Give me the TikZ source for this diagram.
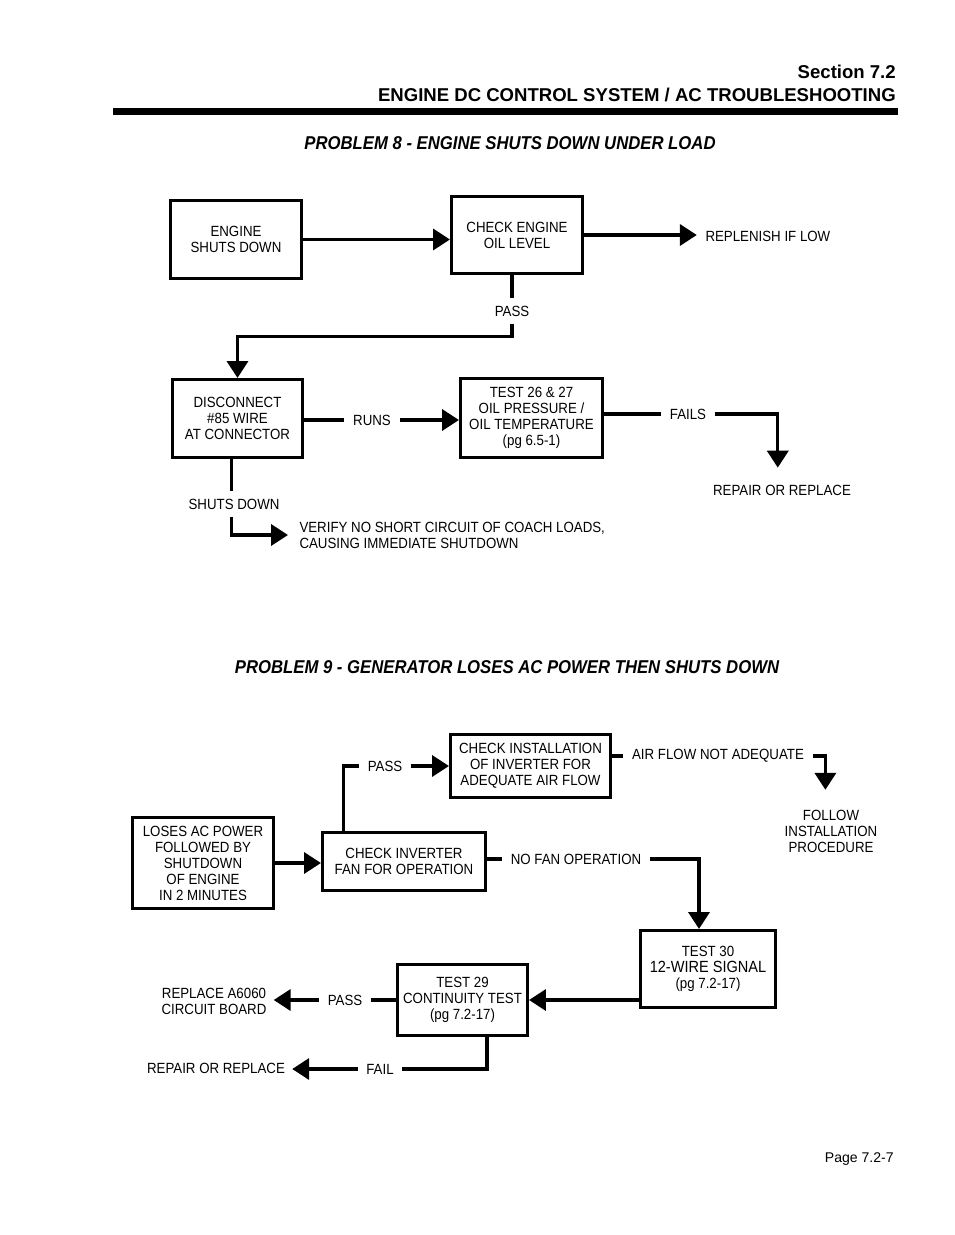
\documentclass[tikz,border=0pt]{standalone}
\usepackage{fontspec}
\setmainfont[FakeStretch=0.9]{Liberation Sans}
\newfontfamily\headfont{Liberation Sans}
\newfontfamily\titlefont[FakeStretch=0.9]{Liberation Sans}
\usetikzlibrary{arrows.meta,positioning,calc}

\begin{document}
\begin{tikzpicture}[x=0.025cm,y=-0.025cm]
  % Define styles
  \tikzstyle{box} = [rectangle, draw, line width=2.2pt, align=center, inner sep=0pt, font=\fontsize{10.5}{11.4}\selectfont]
  \tikzstyle{flow} = [line width=2.2pt]
  \tikzstyle{arrow} = [line width=2.2pt, -{Triangle[length=12pt,width=15pt]}]
  \tikzstyle{note} = [align=center, inner sep=3pt, font=\fontsize{10.5}{11.4}\selectfont]
  \tikzstyle{tag} = [note, inner xsep=6pt, inner ysep=5pt]
  \tikzstyle{heading} = [font=\headfont\bfseries\fontsize{13.2}{15}\selectfont, inner sep=0pt]
  \tikzstyle{problem} = [font=\titlefont\bfseries\itshape\fontsize{13.2}{15}\selectfont, inner sep=0pt]

  \useasboundingbox (0,0) rectangle (954,1235);

  % Page heading
  \node [heading, anchor=base east] (sect) at (896,79) {Section 7.2};
  \node [heading, anchor=base east] (chapter) at (896,102) {ENGINE DC CONTROL SYSTEM / AC TROUBLESHOOTING};
  \draw [line width=4.4pt] (113,111.5) -- (898,111.5);

  % Problem 8
  \node [problem] (prob8) at (510,143) {PROBLEM 8 - ENGINE SHUTS DOWN UNDER LOAD};

  \node [box, minimum width=3.275cm, minimum height=1.95cm] (engine) at (236,239.5) {ENGINE\\SHUTS DOWN};
  \node [box, minimum width=3.275cm, minimum height=1.925cm] (oil) at (517,235) {CHECK ENGINE\\OIL LEVEL};
  \node [box, minimum width=3.25cm, minimum height=1.95cm] (disc) at (237.5,418.5) {DISCONNECT\\\#85 WIRE\\AT CONNECTOR};
  \node [box, minimum width=3.55cm, minimum height=1.975cm] (test26) at (531.5,418) {TEST 26 \& 27\\OIL PRESSURE /\\OIL TEMPERATURE\\(pg 6.5-1)};

  \node [note, anchor=west] (replenish) at (701,236) {REPLENISH IF LOW};
  \node [tag] (pass8) at (512,311) {PASS};
  \node [tag] (runs) at (372,420) {RUNS};
  \node [tag] (fails) at (688,414) {FAILS};
  \node [note] (repair8) at (782,490) {REPAIR OR REPLACE};
  \node [tag] (shutsdn) at (234,504) {SHUTS DOWN};
  \node [note, anchor=west, align=left] (verify) at (295,535) {VERIFY NO SHORT CIRCUIT OF COACH LOADS,\\CAUSING IMMEDIATE SHUTDOWN};

  \draw [arrow] (engine.east) -- (engine.east -| oil.west);
  \draw [arrow, shorten >=3pt] (oil.east) -- (oil.east -| replenish.west);
  \draw [flow] (pass8.north |- oil.south) -- (pass8.north);
  \draw [arrow] (pass8.south) -- ++(0,13) -| (disc.north);
  \draw [flow] (disc.east |- runs) -- (runs.west);
  \draw [arrow] (runs.east) -- (runs -| test26.west);
  \draw [flow] (test26.east |- fails) -- (fails.west);
  \draw [arrow] (fails.east) -| ([xshift=-3pt,yshift=9pt]repair8.north);
  \draw [flow] ([xshift=-4.5pt]disc.south) -- ([xshift=-4.5pt]disc.south |- shutsdn.north);
  \draw [arrow, shorten >=5pt] ([xshift=-2pt]shutsdn.south) |- (verify.west);

  % Problem 9
  \node [problem] (prob9) at (507,667) {PROBLEM 9 - GENERATOR LOSES AC POWER THEN SHUTS DOWN};

  \node [box, minimum width=3.525cm, minimum height=2.275cm] (loses) at (203,863) {LOSES AC POWER\\FOLLOWED BY\\SHUTDOWN\\OF ENGINE\\IN 2 MINUTES};
  \node [box, minimum width=4.075cm, minimum height=1.45cm] (fan) at (404,861.5) {CHECK INVERTER\\FAN FOR OPERATION};
  \node [box, minimum width=4cm, minimum height=1.575cm] (install) at (530.5,766) {CHECK INSTALLATION\\OF INVERTER FOR\\ADEQUATE AIR FLOW};
  \node [box, minimum width=3.375cm, minimum height=1.925cm] (test30) at (708,969) {TEST 30\\{\fontsize{11.5}{11.4}\selectfont 12-WIRE SIGNAL}\\(pg 7.2-17)};
  \node [box, minimum width=3.25cm, minimum height=1.775cm] (test29) at (462.5,1000) {TEST 29\\CONTINUITY TEST\\(pg 7.2-17)};

  \node [tag] (pass9) at (385,766) {PASS};
  \node [tag] (airflow) at (718,756) {AIR FLOW NOT ADEQUATE};
  \node [note] (follow) at (831,831) {FOLLOW\\INSTALLATION\\PROCEDURE};
  \node [tag] (nofan) at (576,859) {NO FAN OPERATION};
  \node [tag] (passb) at (345,1000) {PASS};
  \node [note] (replace) at (214,1001) {REPLACE A6060\\CIRCUIT BOARD};
  \node [tag] (fail) at (380,1069) {FAIL};
  \node [note] (repair9) at (216,1068) {REPAIR OR REPLACE};

  \draw [arrow] (loses.east) -- (loses.east -| fan.west);
  \draw [flow] ([xshift=16pt]fan.north west) |- (pass9.west);
  \draw [arrow] (pass9.east) -- (pass9 -| install.west);
  \draw [flow] (install.east |- airflow) -- (airflow.west);
  \draw [arrow] (airflow.east) -| ([xshift=-4pt,yshift=11pt]follow.north);
  \draw [flow] (fan.east |- nofan) -- (nofan.west);
  \draw [arrow] (nofan.east) -| ([xshift=-6.4pt]test30.north);
  \draw [arrow] (test29.east -| test30.west) -- (test29.east);
  \draw [flow] (test29.west) -- (passb.east);
  \draw [arrow, shorten >=2pt] (passb.west) -- (passb -| replace.east);
  \draw [flow] ([xshift=17.4pt]test29.south) |- (fail.east);
  \draw [arrow, shorten >=2pt] (fail.west) -- (fail -| repair9.east);

  % Page number
  \node [anchor=base east, font=\headfont\fontsize{10}{12}\selectfont, inner sep=0pt] (page) at (894,1162) {Page 7.2-7};
\end{tikzpicture}
\end{document}
